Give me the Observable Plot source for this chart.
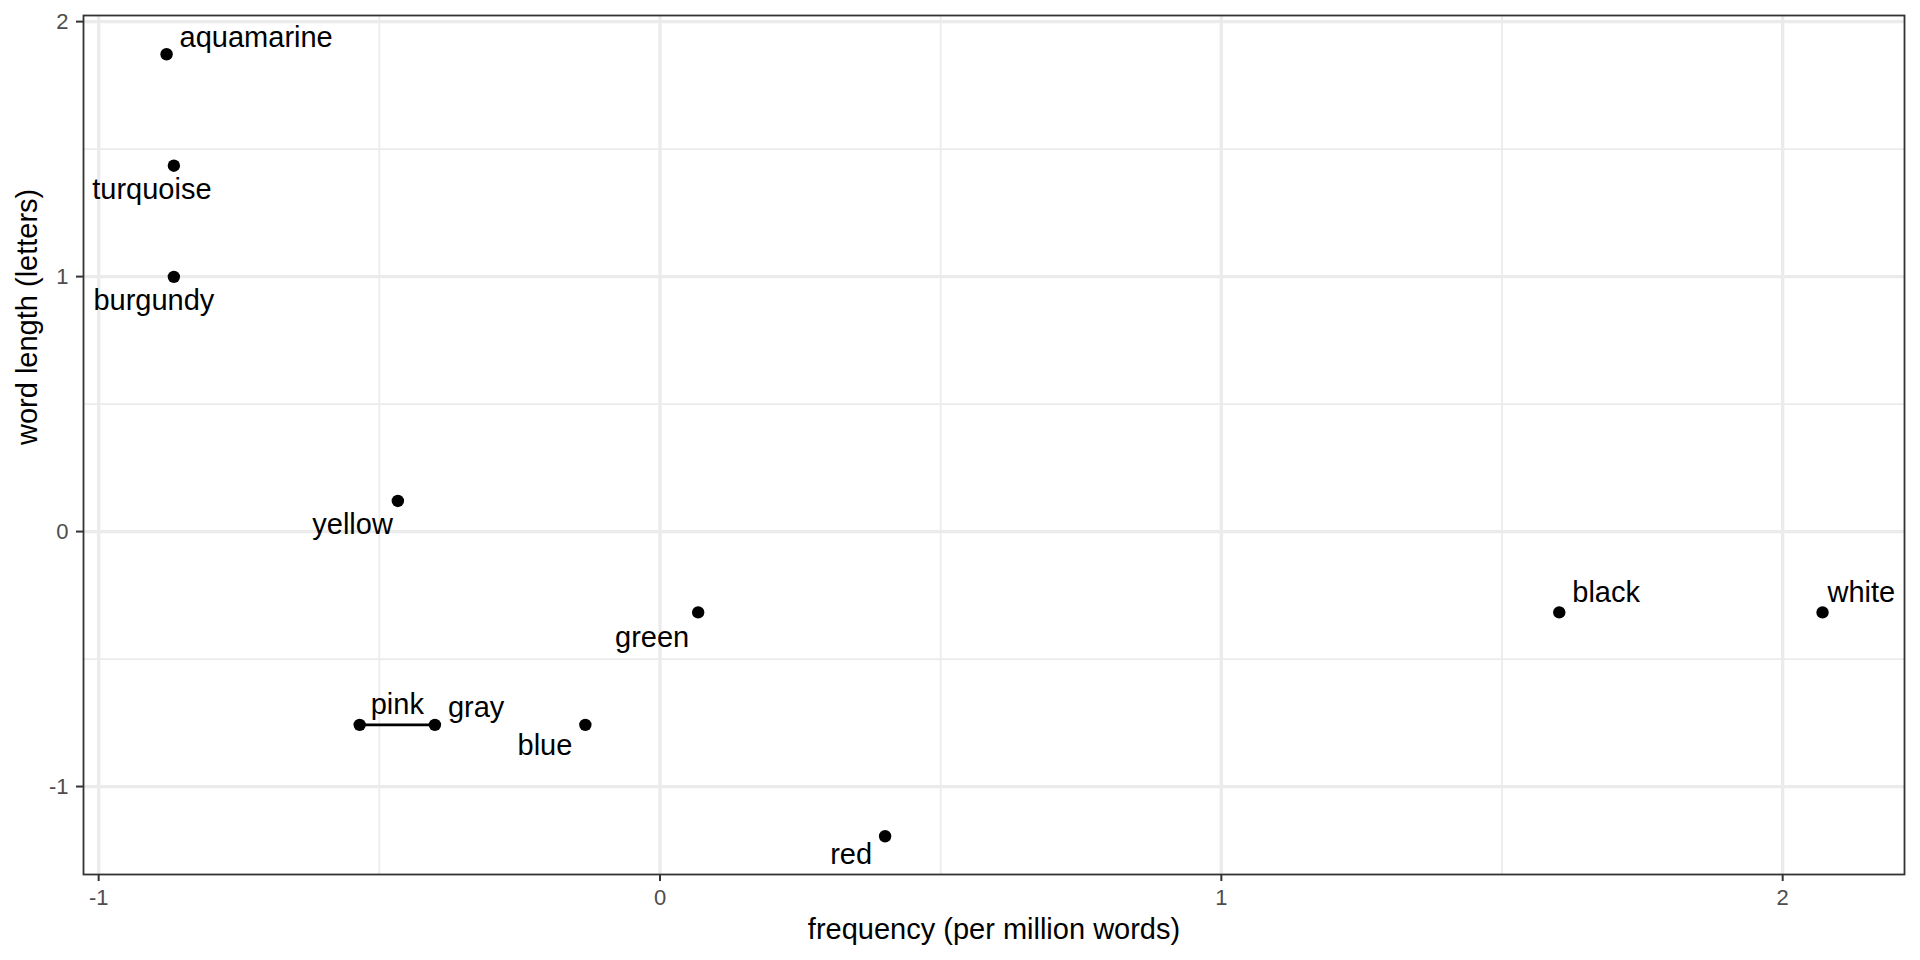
<!DOCTYPE html>
<html>
<head>
<meta charset="utf-8">
<script src="https://cdn.jsdelivr.net/npm/d3@7"></script>
<script src="https://cdn.jsdelivr.net/npm/@observablehq/plot@0.6"></script>
<style>
  html, body { margin: 0; padding: 0; background: #fff; }
  #chart svg { display: block; font-family: "Liberation Sans", Arial, sans-serif; }
</style>
</head>
<body>
<div id="chart"></div>
<script>
// Data (standardized scores)
const colorWords = ["aquamarine", "turquoise", "burgundy", "yellow", "green", "pink", "gray", "blue", "red", "black", "white"];
const frequency  = [-0.879, -0.866, -0.866, -0.467, 0.068, -0.535, -0.401, -0.133, 0.401, 1.602, 2.071];
const wordLength = [1.872, 1.435, 0.999, 0.120, -0.317, -0.758, -0.758, -0.758, -1.195, -0.317, -0.317];

// Segment joining pink and gray
const segmentWords = ["pink", "gray"];

// Axis ticks
const xMajorTicks = [-1, 0, 1, 2];
const xMinorTicks = [-0.5, 0.5, 1.5];
const yMajorTicks = [-1, 0, 1, 2];
const yMinorTicks = [-0.5, 0.5, 1.5];

// Label placement (repelled labels): anchor and pixel offsets
const labelAnchor = ["start", "middle", "middle", "end", "end", "start", "start", "end", "end", "start", "start"];
const labelDx = [13, -22, -20, -5, -9, 11, 13, -13, -13, 13, 5];
const labelDy = [-17, 24, 24, 24, 25, -20, -17, 21, 18, -20, -20];

const rows = colorWords.map((w, i) => ({word: w, frequency: frequency[i], length: wordLength[i]}));
const segRows = segmentWords.map(w => rows.find(r => r.word === w));

const labelMarks = rows.map((r, i) => Plot.text([r], {
  x: "frequency", y: "length", text: "word",
  textAnchor: labelAnchor[i], dx: labelDx[i], dy: labelDy[i],
  fontSize: 29, fill: "#000"
}));

const chart = Plot.plot({
  width: 1920,
  height: 960,
  marginLeft: 83,
  marginRight: 16,
  marginTop: 15,
  marginBottom: 86,
  style: {fontFamily: "Liberation Sans, Arial, sans-serif", background: "#fff"},
  x: {domain: [-1.027, 2.217]},
  y: {domain: [-1.345, 2.024]},
  marks: [
    Plot.gridX({ticks: xMinorTicks, stroke: "#EBEBEB", strokeOpacity: 1, strokeWidth: 1.7}),
    Plot.gridY({ticks: yMinorTicks, stroke: "#EBEBEB", strokeOpacity: 1, strokeWidth: 1.7}),
    Plot.gridX({ticks: xMajorTicks, stroke: "#EBEBEB", strokeOpacity: 1, strokeWidth: 3.3}),
    Plot.gridY({ticks: yMajorTicks, stroke: "#EBEBEB", strokeOpacity: 1, strokeWidth: 3.3}),
    Plot.frame({stroke: "#333333", strokeWidth: 1.8}),
    Plot.axisX({ticks: xMajorTicks, tickFormat: d => String(d), tickSize: 7, tickPadding: 8,
      fontSize: 22, stroke: "#333333", fill: "#4D4D4D", strokeWidth: 2, label: null}),
    Plot.axisY({ticks: yMajorTicks, tickFormat: d => String(d), tickSize: 7, tickPadding: 8,
      fontSize: 22, stroke: "#333333", fill: "#4D4D4D", strokeWidth: 2, label: null}),
    Plot.text(["frequency (per million words)"], {frameAnchor: "bottom", dy: 64, fontSize: 29, fill: "#000"}),
    Plot.text(["word length (letters)"], {frameAnchor: "left", dx: -56, rotate: -90, fontSize: 29, fill: "#000"}),
    Plot.line(segRows, {x: "frequency", y: "length", stroke: "#000", strokeWidth: 2.6}),
    Plot.dot(rows, {x: "frequency", y: "length", r: 6.2, fill: "#000", stroke: "none"}),
    ...labelMarks
  ]
});
document.getElementById("chart").append(chart);
</script>
</body>
</html>
